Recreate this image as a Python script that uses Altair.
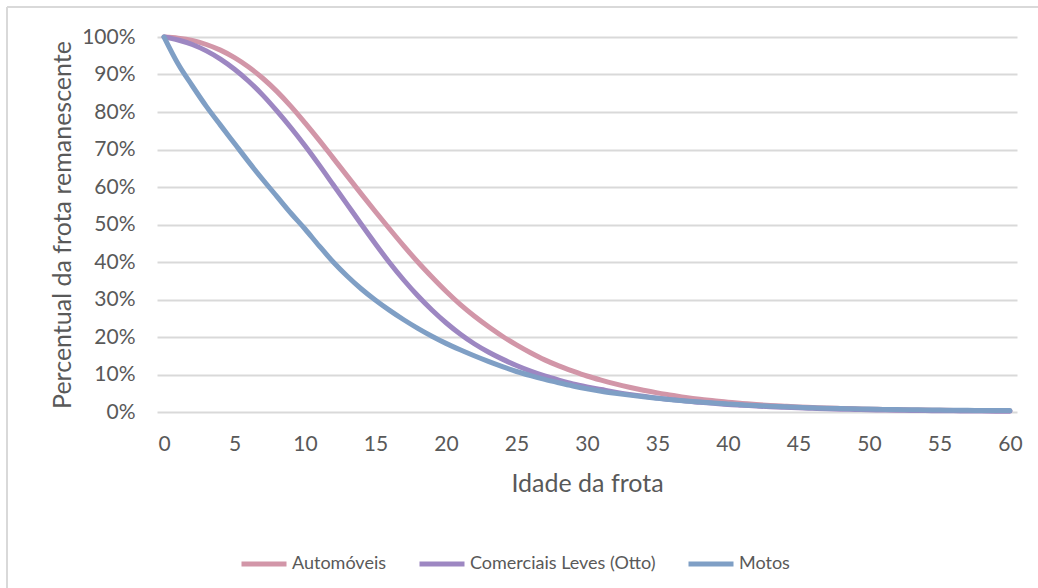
import altair as alt
import pandas as pd

# Fleet age (years) and share of the fleet still in use (%)
idade = list(range(0, 61))

automoveis = [
    100.0, 99.7, 99.1, 98.0, 96.5, 94.5, 92.0, 89.0, 85.5, 81.5,
    77.1, 72.5, 67.7, 62.9, 58.1, 53.4, 48.8, 44.3, 40.0, 36.0,
    32.2, 28.7, 25.6, 22.8, 20.2, 17.9, 15.8, 13.9, 12.3, 10.9,
    9.6, 8.5, 7.5, 6.6, 5.8, 5.1, 4.5, 3.9, 3.4, 3.0,
    2.6, 2.3, 2.0, 1.75, 1.55, 1.35, 1.2, 1.05, 0.95, 0.85,
    0.75, 0.68, 0.62, 0.56, 0.51, 0.47, 0.43, 0.4, 0.37, 0.34,
    0.32,
]

comerciais_leves = [
    100.0, 99.2, 98.0, 96.3, 94.1, 91.4, 88.2, 84.5, 80.3, 75.8,
    71.0, 65.9, 60.6, 55.3, 50.0, 44.8, 39.8, 35.2, 31.0, 27.2,
    23.8, 20.8, 18.2, 16.0, 14.1, 12.4, 10.9, 9.6, 8.5, 7.5,
    6.7, 6.0, 5.3, 4.7, 4.2, 3.7, 3.3, 2.9, 2.6, 2.3,
    2.0, 1.8, 1.6, 1.4, 1.25, 1.1, 0.97, 0.86, 0.76, 0.67,
    0.6, 0.53, 0.47, 0.42, 0.37, 0.33, 0.3, 0.27, 0.24, 0.22,
    0.2,
]

motos = [
    100.0, 92.8, 87.0, 81.5, 76.5, 71.6, 66.7, 62.0, 57.5, 53.0,
    48.8, 44.3, 40.0, 36.2, 32.8, 29.8, 27.1, 24.6, 22.3, 20.2,
    18.3, 16.6, 15.0, 13.5, 12.1, 10.8, 9.7, 8.7, 7.8, 6.95,
    6.2, 5.55, 5.0, 4.5, 4.05, 3.65, 3.28, 2.95, 2.65, 2.38,
    2.14, 1.92, 1.72, 1.54, 1.38, 1.24, 1.12, 1.01, 0.92, 0.84,
    0.77, 0.7, 0.64, 0.59, 0.55, 0.51, 0.47, 0.44, 0.41, 0.39,
    0.37,
]

series = ["Automóveis", "Comerciais Leves (Otto)", "Motos"]
cores = ["#d296a8", "#9d87c2", "#7f9fc5"]
x_ticks = list(range(0, 61, 5))
y_ticks = [i / 10 for i in range(0, 11)]

rows = []
for nome, valores in zip(series, [automoveis, comerciais_leves, motos]):
    for a, v in zip(idade, valores):
        rows.append({"idade": a, "pct": v / 100.0, "serie": nome})
df = pd.DataFrame(rows)

FONT = "Lato"
TEXT = "#595959"
GRID = "#d9d9d9"

W, H = 860, 375
PAD_L, PAD_T = 157, 37

lines = (
    alt.Chart(df)
    .mark_line(strokeWidth=5, strokeCap="round", interpolate="monotone")
    .encode(
        x=alt.X(
            "idade:Q",
            scale=alt.Scale(domain=[-0.5, 60.5], nice=False, zero=False),
            axis=alt.Axis(
                values=x_ticks,
                grid=False,
                ticks=False,
                domain=False,
                labelPadding=21,
                labelFontSize=21,
                labelColor=TEXT,
                labelFont=FONT,
                title="Idade da frota",
                titleFontSize=25,
                titleFontWeight="normal",
                titleColor=TEXT,
                titleFont=FONT,
                titleBaseline="middle",
                titleY=71,
            ),
        ),
        y=alt.Y(
            "pct:Q",
            scale=alt.Scale(domain=[0, 1], nice=False),
            axis=alt.Axis(
                values=y_ticks,
                format=".0%",
                grid=True,
                gridColor=GRID,
                gridWidth=2,
                ticks=False,
                domain=False,
                labelPadding=22,
                labelFontSize=21,
                labelColor=TEXT,
                labelFont=FONT,
                title="Percentual da frota remanescente",
                titleFontSize=25,
                titleFontWeight="normal",
                titleColor=TEXT,
                titleFont=FONT,
                titleAngle=-90,
                titleBaseline="middle",
                titleX=-95,
                titleY=H / 2,
            ),
        ),
        color=alt.Color(
            "serie:N",
            scale=alt.Scale(domain=series, range=cores),
            title=None,
            legend=alt.Legend(
                orient="none",
                direction="horizontal",
                legendX=82,
                legendY=502,
                symbolType="stroke",
                symbolSize=2025,
                symbolStrokeWidth=5,
                labelFontSize=18,
                labelFont=FONT,
                labelColor=TEXT,
                labelOffset=3,
                labelLimit=0,
                columnPadding=22,
            ),
        ),
    )
)

# Chart-area frame (top and left edges)
frame_top = alt.Chart(df).mark_rule(color=GRID, strokeWidth=1.5).encode(
    x=alt.value(7 - PAD_L), x2=alt.value(1045 - PAD_L), y=alt.value(7 - PAD_T)
)
frame_left = alt.Chart(df).mark_rule(color=GRID, strokeWidth=1.5).encode(
    x=alt.value(7 - PAD_L), y=alt.value(7 - PAD_T), y2=alt.value(600 - PAD_T)
)

chart = (
    alt.layer(frame_top, frame_left, lines)
    .properties(
        width=W,
        height=H,
        autosize=alt.AutoSizeParams(type="none"),
        padding={"left": PAD_L, "top": PAD_T, "right": 1038 - PAD_L - W, "bottom": 588 - PAD_T - H},
        background="white",
    )
    .configure_view(stroke=None)
)

chart.save("out.html", embed_options={"renderer": "svg", "actions": False})
